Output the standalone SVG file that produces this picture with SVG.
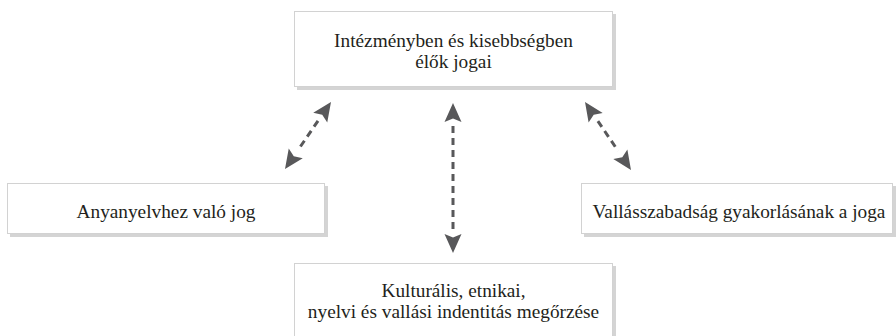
<svg xmlns="http://www.w3.org/2000/svg" width="896" height="336" viewBox="0 0 896 336">
<style>
.box{fill:#ffffff;stroke:#d2d2d2;stroke-width:1}
.shadow{fill:#d4d4d4}
.t{font-family:"Liberation Serif","Times New Roman",serif;font-size:19.3px;fill:#231f20;text-anchor:middle}
.conn{stroke:#58585a;stroke-width:3;stroke-dasharray:7 5;fill:none;marker-start:url(#ah);marker-end:url(#ah)}
</style>
<defs>
<marker id="ah" viewBox="-24 -10 26 20" refX="-23" refY="0" markerWidth="26" markerHeight="20" markerUnits="userSpaceOnUse" orient="auto-start-reverse" overflow="visible">
<path d="M0,0 L-19,-8.5 L-15.5,0 L-19,8.5 Z" fill="#58585a"/>
</marker>
</defs>
<rect width="896" height="336" fill="#ffffff"/>
<g id="top">
<rect class="shadow" x="297" y="14" width="319" height="76"/>
<rect class="box" x="294.5" y="11.5" width="318" height="75"/>
<text class="t" x="453.5" y="47">Intézményben és kisebbségben</text>
<text class="t" x="453.5" y="68">élők jogai</text>
</g>
<g id="left">
<rect class="shadow" x="10" y="186" width="318" height="51"/>
<rect class="box" x="7.5" y="183.5" width="317" height="50"/>
<text class="t" x="166" y="218">Anyanyelvhez való jog</text>
</g>
<g id="right">
<rect class="shadow" x="584" y="186" width="312" height="51"/>
<rect class="box" x="581.5" y="183.5" width="311" height="50"/>
<text class="t" x="739" y="218">Vallásszabadság gyakorlásának a joga</text>
</g>
<g id="bottom">
<rect class="shadow" x="297" y="266" width="319" height="76"/>
<rect class="box" x="294.5" y="263.5" width="318" height="80"/>
<text class="t" x="453.5" y="297">Kulturális, etnikai,</text>
<text class="t" x="453.5" y="318">nyelvi és vallási indentitás megőrzése</text>
</g>
<g id="connectors">
<line class="conn" x1="317.98" y1="120.95" x2="298.02" y2="150.05"/>
<line class="conn" x1="453" y1="126" x2="453" y2="230"/>
<line class="conn" x1="597.9" y1="121.06" x2="618.1" y2="150.94"/>
</g>
</svg>
